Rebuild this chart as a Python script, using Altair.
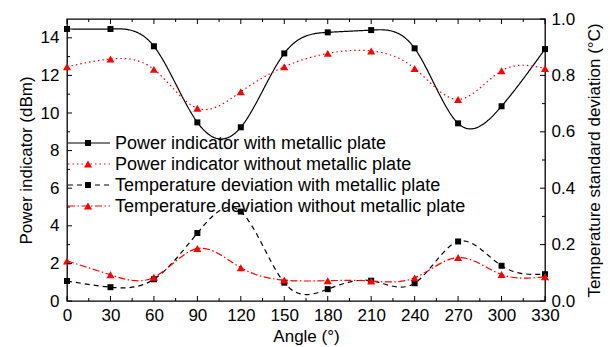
import altair as alt
import pandas as pd

# ---- data ----
angles = [0, 30, 60, 90, 120, 150, 180, 210, 240, 270, 300, 330]
power_with = [14.47, 14.47, 13.55, 9.50, 9.24, 13.17, 14.29, 14.41, 13.44, 9.45, 10.36, 13.40]
power_without = [12.46, 12.87, 12.32, 10.25, 11.13, 12.46, 13.17, 13.30, 12.37, 10.72, 12.25, 12.37]
temp_with = [0.071, 0.049, 0.077, 0.241, 0.317, 0.065, 0.042, 0.072, 0.063, 0.211, 0.125, 0.095]
temp_without = [0.142, 0.093, 0.084, 0.186, 0.118, 0.074, 0.072, 0.071, 0.082, 0.154, 0.094, 0.086]

x_major = [0, 30, 60, 90, 120, 150, 180, 210, 240, 270, 300, 330]
x_minor = [15, 45, 75, 105, 135, 165, 195, 225, 255, 285, 315]
left_major = [0, 2, 4, 6, 8, 10, 12, 14]
left_minor = [1, 3, 5, 7, 9, 11, 13]
right_major = [0.0, 0.2, 0.4, 0.6, 0.8, 1.0]
right_minor = [0.1, 0.3, 0.5, 0.7, 0.9]

legend_labels = [
    "Power indicator with metallic plate",
    "Power indicator without metallic plate",
    "Temperature deviation with metallic plate",
    "Temperature deviation without metallic plate",
]

W, H = 478, 282
FONT = "Liberation Sans"
RED = "#ff0000"

df = pd.DataFrame({"angle": angles, "pw": power_with, "pwo": power_without,
                   "tw": temp_with, "two": temp_without})

xscale = alt.Scale(domain=[0, 330], nice=False, zero=False)
lscale = alt.Scale(domain=[0, 15], nice=False, zero=False)
rscale = alt.Scale(domain=[0, 1.0], nice=False, zero=False)

xaxis = alt.Axis(values=x_major, title="Angle (°)", ticks=False, domain=False, grid=False,
                 labelFlush=False, labelPadding=6, titlePadding=5, labelOverlap=False)
laxis = alt.Axis(orient="left", values=left_major, title="Power indicator (dBm)", ticks=False,
                 domain=False, grid=False, labelPadding=8, titlePadding=5, labelFlush=False)
raxis = alt.Axis(orient="right", values=right_major, format=".1f",
                 title="Temperature standard deviation (°C)", ticks=False, domain=False,
                 grid=False, labelPadding=6, titlePadding=12, titleAngle=270,
                 titleBaseline="top", labelFlush=False)

X = alt.X("angle:Q", scale=xscale, axis=xaxis)

styles = [
    dict(field="pw", color="black", dash=[1, 0], shape="square", size=36, scale=lscale),
    dict(field="pwo", color=RED, dash=[1.5, 3], shape="triangle-up", size=64, scale=lscale),
    dict(field="tw", color="black", dash=[5, 4], shape="square", size=36, scale=rscale),
    dict(field="two", color=RED, dash=[7, 2.5, 1.5, 2.5], shape="triangle-up", size=64, scale=rscale),
]

def series_layers(st, axis):
    line = alt.Chart(df).mark_line(interpolate="natural", color=st["color"], strokeWidth=1.2,
                                   strokeDash=st["dash"], clip=True).encode(
        x=X, y=alt.Y(st["field"] + ":Q", scale=st["scale"], axis=axis))
    pts = alt.Chart(df).mark_point(shape=st["shape"], size=st["size"], filled=True,
                                   color=st["color"], opacity=1).encode(
        x=X, y=alt.Y(st["field"] + ":Q", scale=st["scale"], axis=None))
    return [line, pts]

def tick_rules_x(vals, length):
    d = pd.DataFrame({"angle": vals})
    bottom = alt.Chart(d).mark_rule(color="black", strokeWidth=1).encode(
        x=X, y=alt.value(H), y2=alt.value(H - length))
    top = alt.Chart(d).mark_rule(color="black", strokeWidth=1).encode(
        x=X, y=alt.value(0), y2=alt.value(length))
    return [bottom, top]

def tick_rules_y(vals, scale, length, side):
    d = pd.DataFrame({"t": vals})
    if side == "left":
        x1, x2 = 0, length
    else:
        x1, x2 = W, W - length
    return [alt.Chart(d).mark_rule(color="black", strokeWidth=1).encode(
        x=alt.value(x1), x2=alt.value(x2), y=alt.Y("t:Q", scale=scale, axis=None))]

# legend drawn inside the plot
legend_rows_y = [124, 145, 166, 187]
legend_layers = []
for i, (lab, st) in enumerate(zip(legend_labels, styles)):
    d = pd.DataFrame({"label": [lab]})
    ly = legend_rows_y[i]
    legend_layers.append(alt.Chart(d).mark_rule(color=st["color"], strokeWidth=1.2,
                                                strokeDash=st["dash"]).encode(
        x=alt.value(1), x2=alt.value(43), y=alt.value(ly)))
    legend_layers.append(alt.Chart(d).mark_point(shape=st["shape"], size=st["size"], filled=True,
                                                 color=st["color"], opacity=1).encode(
        x=alt.value(21), y=alt.value(ly)))
    legend_layers.append(alt.Chart(d).mark_text(align="left", baseline="middle", font=FONT,
                                                fontSize=18, color="black").encode(
        x=alt.value(48), y=alt.value(ly + 1), text="label:N"))

layers = (
    series_layers(styles[0], laxis)
    + series_layers(styles[1], None)
    + series_layers(styles[2], raxis)
    + series_layers(styles[3], None)
    + tick_rules_x(x_major, 5)
    + tick_rules_x(x_minor, 3)
    + tick_rules_y(left_major, lscale, 5, "left")
    + tick_rules_y(left_minor, lscale, 3, "left")
    + tick_rules_y(right_major, rscale, 5, "right")
    + tick_rules_y(right_minor, rscale, 3, "right")
    + legend_layers
)

chart = alt.layer(*layers).resolve_scale(y="independent").properties(
    width=W, height=H,
    padding={"left": 67, "top": 19, "right": 65, "bottom": 46},
    autosize=alt.AutoSizeParams(type="none"),
    background="white",
).configure_view(stroke="black", strokeWidth=1.3).configure_axis(
    labelFont=FONT, titleFont=FONT, labelFontSize=17, titleFontSize=17,
    labelColor="black", titleColor="black", titleFontWeight="normal",
)

chart.save("out.html", embed_options={"renderer": "svg", "actions": False})
